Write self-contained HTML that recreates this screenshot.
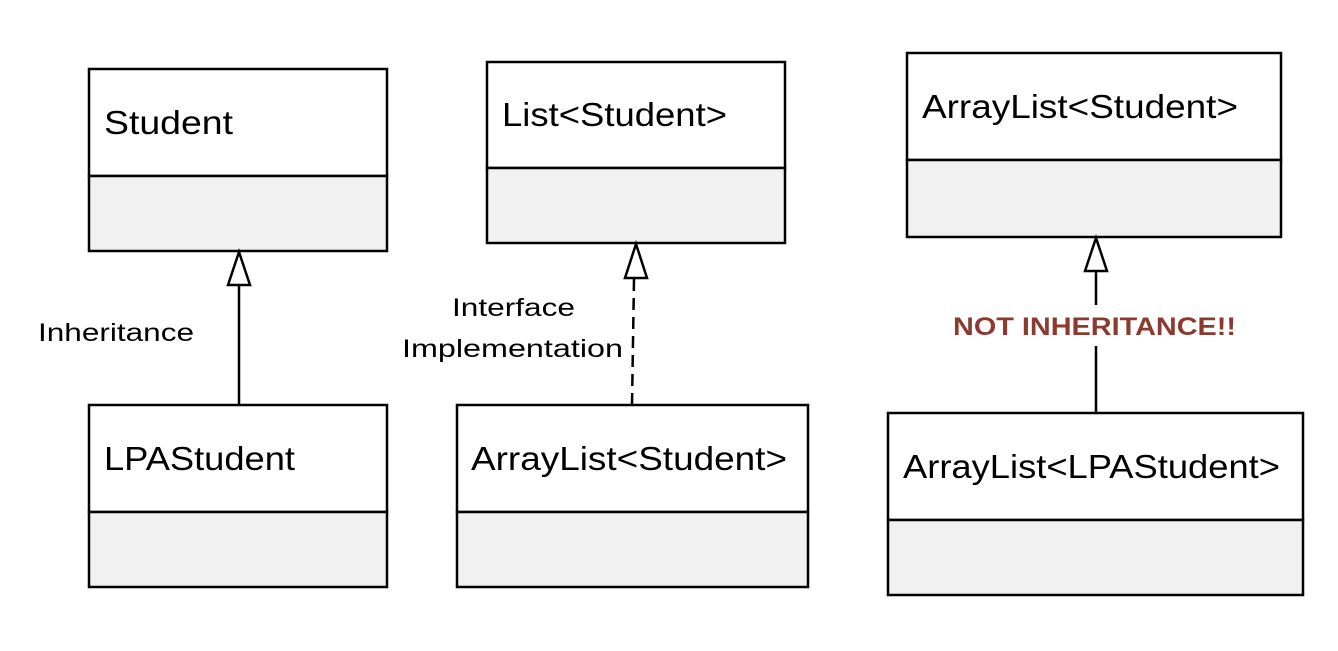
<!DOCTYPE html>
<html><head><style>body{margin:0;background:#fff}</style></head><body>
<svg width="1338" height="646" xmlns="http://www.w3.org/2000/svg" font-family="'Liberation Sans', sans-serif">
<g stroke="#000" stroke-width="2.5">
<rect x="89" y="69" width="298" height="107" fill="#fff"/><rect x="89" y="176" width="298" height="75" fill="#f1f1f1"/>
<rect x="487" y="62" width="298" height="106" fill="#fff"/><rect x="487" y="168" width="298" height="75" fill="#f1f1f1"/>
<rect x="907" y="53" width="374" height="107" fill="#fff"/><rect x="907" y="160" width="374" height="77" fill="#f1f1f1"/>
<rect x="89" y="405" width="298" height="107" fill="#fff"/><rect x="89" y="512" width="298" height="75" fill="#f1f1f1"/>
<rect x="457" y="405" width="351" height="107" fill="#fff"/><rect x="457" y="512" width="351" height="75" fill="#f1f1f1"/>
<rect x="888" y="413" width="415" height="107" fill="#fff"/><rect x="888" y="520" width="415" height="75" fill="#f1f1f1"/>
<line x1="239" y1="285" x2="239" y2="405"/>
<polygon points="239,252 228,285 250,285" fill="#fff"/>
<line x1="634" y1="279" x2="632" y2="405" stroke-dasharray="12,7"/>
<polygon points="636,244 625,278 647,278" fill="#fff"/>
<line x1="1096" y1="271" x2="1096" y2="305"/>
<line x1="1096" y1="346" x2="1096" y2="413"/>
<polygon points="1096,238 1085,271 1107,271" fill="#fff"/>
</g>
<g font-size="33" fill="#000" lengthAdjust="spacingAndGlyphs">
<text x="104" y="134" textLength="129" lengthAdjust="spacingAndGlyphs">Student</text>
<text x="502" y="126" textLength="225" lengthAdjust="spacingAndGlyphs">List&lt;Student&gt;</text>
<text x="922" y="118" textLength="316" lengthAdjust="spacingAndGlyphs">ArrayList&lt;Student&gt;</text>
<text x="104" y="470" textLength="191" lengthAdjust="spacingAndGlyphs">LPAStudent</text>
<text x="471" y="470" textLength="316" lengthAdjust="spacingAndGlyphs">ArrayList&lt;Student&gt;</text>
<text x="903" y="478" textLength="377" lengthAdjust="spacingAndGlyphs">ArrayList&lt;LPAStudent&gt;</text>
</g>
<g font-size="25" fill="#000">
<text x="38" y="341" textLength="156" lengthAdjust="spacingAndGlyphs">Inheritance</text>
<text x="452" y="316" textLength="123" lengthAdjust="spacingAndGlyphs">Interface</text>
<text x="402" y="357" textLength="221" lengthAdjust="spacingAndGlyphs">Implementation</text>
</g>
<text x="953" y="335" font-size="25" font-weight="bold" fill="#8b3a30" textLength="283" lengthAdjust="spacingAndGlyphs">NOT INHERITANCE!!</text>
</svg>
</body></html>
